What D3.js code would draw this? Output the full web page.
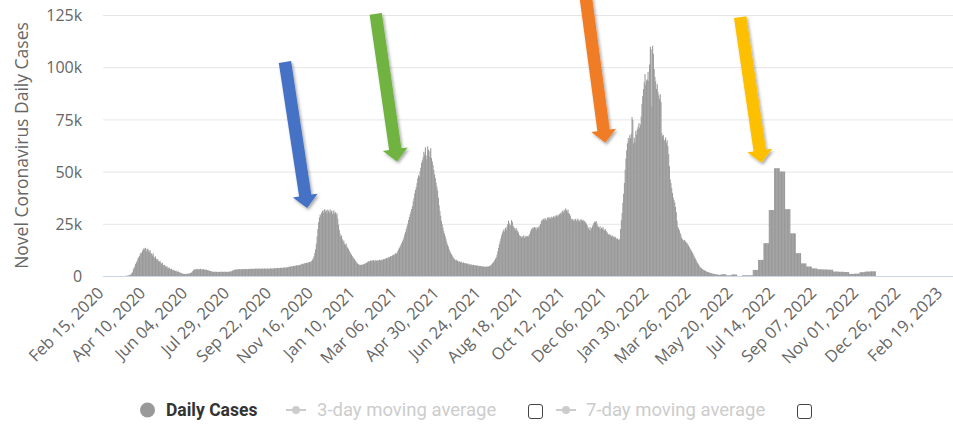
<!DOCTYPE html>
<html>
<head>
<meta charset="utf-8">
<script src="https://cdn.jsdelivr.net/npm/d3@7"></script>
<style>
  body { margin: 0; background: #fff; }
  svg { display: block; }
</style>
</head>
<body>
<div id="chart"></div>
<script>
// daily new cases in thousands, one value per day from Feb 15, 2020
var startDate = "2020-02-15";

var cases2020 = [
	0,0,0,0,0,0,0,0,0,0,0,0,0,0,0,0,0,0,0,0,0,0,0,0,0,
	0.001,0.004,0.01,0.02,0.05,0.1,0.15,0.2,0.3,0.4,0.6,0.9,1.3,1.8,
	3.2,3.9,4.6,5.8,6.5,7.2,8.4,8.9,9.5,10.6,11.2,10.9,12.1,12.8,
	13.3,12.6,13.5,11.8,12.9,13.1,12.2,11.4,12.4,11.0,
	10.6,9.8,10.9,9.2,8.6,9.4,8.1,7.6,8.2,7.1,6.8,7.3,6.2,5.9,6.4,5.3,5.0,5.4,
	4.6,4.3,4.8,3.9,3.7,4.1,3.4,3.2,3.5,2.9,2.7,3.0,2.5,2.4,2.6,2.1,2.0,2.2,1.8,1.7,
	1.5,1.3,1.2,1.1,1.0,0.9,1.0,1.1,0.9,1.0,1.2,1.1,1.3,1.4,1.6,1.9,
	2.4,2.8,3.1,3.3,3.0,3.2,3.4,3.1,3.3,3.2,3.5,3.0,3.1,3.3,3.2,3.0,3.1,2.9,3.0,2.8,2.7,2.6,2.5,2.4,
	2.2,2.1,2.0,2.1,1.9,2.0,2.1,1.9,2.0,1.8,2.0,1.9,2.0,2.1,1.9,2.0,2.0,1.9,2.1,2.0,2.0,1.9,2.0,2.1,2.0,2.1,2.2,2.3,2.5,2.7,
	2.9,3.0,3.1,3.0,3.2,3.1,3.2,3.3,3.1,3.2,3.3,3.2,3.4,3.3,3.2,3.3,3.4,3.3,3.2,3.4,3.3,3.4,3.5,3.3,3.4,3.5,
	3.4,3.3,3.5,3.6,3.4,3.5,3.4,3.6,3.5,3.4,3.5,3.6,3.5,3.4,3.6,3.5,3.4,3.5,3.6,3.5,3.4,3.6,3.7,3.5,3.6,3.5,
	3.6,3.7,3.8,3.6,3.7,3.8,3.9,3.7,3.8,3.9,4.0,3.8,3.9,4.0,4.1,3.9,4.0,4.1,4.2,
	4.3,4.4,4.5,4.4,4.6,4.7,4.5,4.8,4.9,4.7,5.0,5.1,4.9,5.2,5.3,5.1,5.4,
	5.5,5.7,5.9,5.6,6.0,6.2,6.0,6.3,6.4,6.2,6.6,6.8,6.5,7.0,7.3,7.8,8.6,
	9.5,11.0,12.8,15.5,19.0,22.5,25.8,28.0,29.5,28.8,30.4,
	31.2,30.1,31.6,32.0,30.8,31.5,29.9,31.8,31.1,30.3,31.9,30.6,31.3,29.6,30.9,31.4,29.8,30.5,29.2,30.1,
	27.5,24.6,22.1,20.3,18.9,19.4,17.6,16.2,17.0,15.4,14.8,15.6,14.2,13.5
];

var cases2021 = [
	13.0,12.1,11.4,10.8,10.2,9.6,9.0,
	8.5,8.0,7.4,6.9,6.4,6.0,5.7,
	5.4,5.3,5.2,5.4,5.5,5.3,5.6,5.8,6.0,6.1,6.3,
	6.6,7.0,7.2,6.9,7.4,7.1,7.5,7.3,7.6,7.0,7.4,7.7,7.2,7.5,7.3,7.6,7.8,7.4,7.7,7.9,7.5,8.0,8.2,7.8,8.4,8.6,8.3,
	8.8,9.1,8.9,9.4,9.6,9.3,9.9,10.2,9.8,10.5,10.9,10.6,11.3,
	12.0,12.8,13.5,14.2,15.0,15.8,16.6,17.5,18.6,20.0,
	21.2,22.6,23.9,25.1,26.8,28.3,29.6,30.8,32.1,33.5,
	35.8,37.3,39.5,41.2,42.6,44.5,46.8,48.2,47.6,50.1,51.9,54.2,55.4,
	56.8,59.5,58.2,61.6,55.9,57.7,62.1,60.4,57.1,59.8,61.2,56.5,54.8,53.1,
	50.8,48.6,46.9,44.7,42.8,41.0,
	37.5,33.8,31.1,28.9,26.4,24.8,23.2,21.5,20.3,19.0,
	17.6,16.2,15.0,14.1,12.9,12.0,11.2,10.5,9.8,9.2,
	8.6,8.1,7.7,7.4,7.8,7.2,6.9,7.1,6.8,6.6,6.9,6.4,6.2,6.5,6.1,6.0,6.3,5.9,5.7,6.0,5.6,5.5,
	5.4,5.6,5.3,5.2,5.4,5.1,5.0,5.2,4.9,5.1,4.8,4.9,4.7,4.8,4.6,4.7,4.5,4.6,4.4,4.5,4.3,4.5,4.4,4.6,4.5,4.7,4.9,5.2,5.6,6.1,
	6.5,7.0,7.6,8.3,9.0,10.2,11.8,13.5,15.2,16.6,18.0,
	19.5,20.8,21.6,22.4,21.2,23.1,22.0,23.6,
	24.8,26.5,25.2,23.9,24.6,26.8,25.9,24.1,23.4,22.8,21.9,23.0,22.2,21.5,20.8,
	19.6,18.9,19.2,18.4,19.0,18.7,19.5,18.2,18.9,19.3,18.6,19.1,18.8,19.6,20.2,
	21.4,22.3,22.9,23.2,22.6,23.5,22.8,23.4,22.1,23.0,23.6,22.7,24.1,24.9,
	26.2,27.0,26.5,27.4,26.9,27.8,27.1,26.6,27.9,28.2,27.3,28.0,27.5,28.4,27.7,28.1,28.6,27.8,28.9,28.3,29.1,28.5,29.4,28.8,29.6,
	30.1,29.5,30.8,31.2,30.4,31.7,30.9,32.4,31.5,30.6,31.8,30.2,29.7,28.9,
	27.6,26.8,27.3,26.4,27.1,26.6,27.4,26.2,26.9,27.5,26.7,26.1,27.0,26.5,27.2,26.3,26.8,25.9,26.4,25.6,25.1,24.4,
	23.6,22.8,22.1,23.4,21.7,22.9,23.8,24.5,
	25.4,26.1,25.7,26.3,25.2,24.1,
	23.5,22.9,23.8,22.4,23.1,22.6,23.4,22.2,21.8,22.5,21.6,21.1,
	20.4,19.8,20.1,19.3,19.7,18.9,19.4,18.6,19.0,18.4,18.8,18.1,17.6,18.0,17.4,17.2,17.8,
	22.5,26.8,30.2,35.1,39.4,44.6,50.8,56.2
];

var cases2022 = [
	60.2,63.5,66.1,64.8,67.4,66.0,68.2,
	76.1,74.8,
	63.6,66.2,64.1,69.5,67.8,70.3,
	71.5,73.2,70.8,72.6,76.4,
	82.3,86.1,89.5,92.8,96.7,91.4,93.6,
	94.2,97.8,93.5,101.3,
	109.8,108.5,81.2,110.2,106.4,99.1,95.3,
	93.2,89.6,91.8,88.2,86.5,84.7,87.1,83.4,
	68.4,66.9,67.5,65.2,64.8,66.3,63.7,65.0,62.1,58.4,52.6,
	46.3,44.5,42.1,39.8,37.6,36.4,35.2,33.1,30.5,
	26.4,23.6,22.8,21.9,20.6,19.8,18.4,
	17.6,17.1,16.8,17.3,16.5,16.1,15.8,
	15.2,14.6,13.9,13.2,12.6,12.0,11.3,10.6,
	9.8,9.0,8.3,7.6,6.9,6.2,5.6,5.0,4.4,
	4.0,3.7,3.4,3.1,2.9,2.7,2.5,2.3,2.1,1.9,1.8,1.7,1.5,1.4,
	1.3,1.2,1.1,1.0,0.9,0.8,0.8,0.7,0.7,0.6,0.6,0.5,0.5,
	// weekly reporting from here on, the same value shown for each day of the week
	0.8,0.8,0.8,0.8,0.8,0.8,0.8,
	0.3,0.3,0.3,0.3,0.3,0.3,0.3,
	0.7,0.7,0.7,0.7,0.7,0.7,0.7,
	0,0,0,0,0,0,0,
	0.3,0.3,0.3,0.3,0.3,0.3,0.3,
	0.3,0.3,0.3,0.3,0.3,0.3,0.3,
	2.9,2.9,2.9,2.9,2.9,2.9,2.9,
	7.7,7.7,7.7,7.7,7.7,7.7,7.7,
	15.7,15.7,15.7,15.7,15.7,15.7,15.7,
	31.6,31.6,31.6,31.6,31.6,31.6,31.6,
	51.6,51.6,51.6,51.6,51.6,51.6,51.6,
	50.0,50.0,50.0,50.0,50.0,50.0,50.0,
	32.0,32.0,32.0,32.0,32.0,32.0,32.0,
	20.4,20.4,20.4,20.4,20.4,20.4,20.4,
	10.9,10.9,10.9,10.9,10.9,10.9,10.9,
	6.0,6.0,6.0,6.0,6.0,6.0,6.0,
	4.5,4.5,4.5,4.5,4.5,4.5,4.5,
	3.6,3.6,3.6,3.6,3.6,3.6,3.6,
	3.2,3.2,3.2,3.2,3.2,3.2,3.2,
	3.1,3.1,3.1,3.1,3.1,3.1,3.1,
	3.0,3.0,3.0,3.0,3.0,3.0,3.0,
	2.1,2.1,2.1,2.1,2.1,2.1,2.1,
	2.0,2.0,2.0,2.0,2.0,2.0,2.0,
	1.9,1.9,1.9,1.9,1.9,1.9,1.9,
	1.0,1.0,1.0,1.0,1.0,1.0,1.0,
	1.1,1.1,1.1,1.1,1.1,1.1,1.1,
	1.8,1.8,1.8,1.8,1.8,1.8,1.8,
	2.1,2.1,2.1,2.1,2.1,2.1,2.1,
	2.2,2.2,2.2,2.2,2.2,2.2,2.2
];

var totalDays = 1115;      // categories on the x axis
var xTickEvery = 55;       // a label every 55 days
var yTicks = [0, 25000, 50000, 75000, 100000, 125000];

var legendNames = ["Daily Cases", "3-day moving average", "7-day moving average"];

// arrows drawn on the chart: tail and tip as [day, cases]
var arrows = [
	{ color: "#4472c4", tail: [238, 102500], tip: [267, 32600] },
	{ color: "#6fb33f", tail: [357, 125500], tip: [385, 54800] },
	{ color: "#f07c27", tail: [632, 135000], tip: [658, 63800] },
	{ color: "#fcc000", tail: [835, 124000], tip: [863, 54200] }
];


var width = 953, height = 427;
var plot = { left: 103.1, right: 953.3, top: 15, bottom: 276 };

var t0 = new Date(startDate + "T00:00:00Z");
var fmt = d3.utcFormat("%b %d, %Y");
function dayToDate(i) { return new Date(t0.getTime() + i * 864e5); }

var daily = cases2020.concat(cases2021, cases2022).map(function(v, i) {
	return { day: i, value: v * 1000 };
});

var svg = d3.select("#chart").append("svg")
	.attr("width", width)
	.attr("height", height)
	.style("font-family", "'Open Sans', 'DejaVu Sans', sans-serif");

var x = d3.scaleBand()
	.domain(d3.range(totalDays))
	.range([plot.left, plot.right])
	.padding(0);

var y = d3.scaleLinear()
	.domain([0, 125000])
	.range([plot.bottom, plot.top]);

// y axis with grid lines
var yAxis = svg.append("g")
	.attr("transform", "translate(" + plot.left + ",0)")
	.call(d3.axisLeft(y)
		.tickValues(yTicks)
		.tickSize(-(width - plot.left))
		.tickPadding(21)
		.tickFormat(function(d) { return d ? (d / 1000) + "k" : "0"; }));
yAxis.select(".domain").remove();
yAxis.selectAll(".tick line").attr("stroke", "#e6e6e6").attr("stroke-width", 1);
yAxis.selectAll(".tick text")
	.attr("fill", "#666")
	.attr("font-size", "16px")
	.attr("font-family", "'Open Sans', sans-serif")
	.attr("dy", "0.36em");

svg.append("text")
	.attr("transform", "translate(28," + ((plot.top + plot.bottom) / 2) + ") rotate(-90)")
	.attr("text-anchor", "middle")
	.attr("fill", "#666")
	.attr("font-size", "17.5px")
	.text("Novel Coronavirus Daily Cases");

// bars
svg.append("g")
	.selectAll("rect")
	.data(daily)
	.enter().append("rect")
	.attr("x", function(d) { return x(d.day); })
	.attr("width", x.bandwidth() + 0.3)
	.attr("y", function(d) { return y(d.value); })
	.attr("height", function(d) { return y(0) - y(d.value); })
	.attr("fill", "#999");

// x axis
var xAxis = svg.append("g")
	.attr("transform", "translate(0," + plot.bottom + ")")
	.call(d3.axisBottom(x)
		.tickValues(d3.range(0, totalDays, xTickEvery))
		.tickSize(0)
		.tickFormat(function(i) { return fmt(dayToDate(i)); }));
xAxis.select(".domain")
	.attr("stroke", "#ccd6eb")
	.attr("d", "M" + plot.left + ",0.5H" + width);
xAxis.selectAll(".tick text")
	.attr("fill", "#666")
	.attr("font-size", "16.5px")
	.attr("font-family", "'Open Sans', sans-serif")
	.attr("text-anchor", "end")
	.attr("x", 0).attr("y", 0).attr("dy", null)
	.attr("transform", "translate(1,18) rotate(-45)");

// arrows
var defs = svg.append("defs");
var shadow = defs.append("filter").attr("id", "shadow")
	.attr("x", "-50%").attr("y", "-50%").attr("width", "200%").attr("height", "200%");
shadow.append("feDropShadow")
	.attr("dx", 1.5).attr("dy", 2).attr("stdDeviation", 1.6)
	.attr("flood-color", "#000").attr("flood-opacity", 0.35);

function arrowPath(a) {
	var tx = x(a.tail[0]) + x.bandwidth() / 2, ty = y(a.tail[1]);
	var px = x(a.tip[0]) + x.bandwidth() / 2, py = y(a.tip[1]);
	var len = Math.hypot(px - tx, py - ty);
	var ux = (px - tx) / len, uy = (py - ty) / len;
	var nx = -uy, ny = ux;
	var w = 6.2, hw = 12.5, hl = 12.5;
	var bx = px - ux * hl, by = py - uy * hl;
	var pts = [
		[tx + nx * w, ty + ny * w],
		[bx + nx * w, by + ny * w],
		[bx + nx * hw, by + ny * hw],
		[px, py],
		[bx - nx * hw, by - ny * hw],
		[bx - nx * w, by - ny * w],
		[tx - nx * w, ty - ny * w]
	];
	return "M" + pts.map(function(p) { return p[0].toFixed(1) + "," + p[1].toFixed(1); }).join("L") + "Z";
}

svg.append("g")
	.selectAll("path")
	.data(arrows)
	.enter().append("path")
	.attr("d", arrowPath)
	.attr("fill", function(d) { return d.color; })
	.attr("filter", "url(#shadow)");

// legend
var legend = svg.append("g").attr("font-family", "Roboto, 'Open Sans', sans-serif");
var ly = 410;

legend.append("circle").attr("cx", 147.5).attr("cy", ly).attr("r", 7.5).attr("fill", "#999");
legend.append("text").attr("x", 166).attr("y", ly + 6)
	.attr("font-size", "17.5px")
	.attr("font-weight", "bold").attr("fill", "#333")
	.text(legendNames[0]);

var maItems = [
	{ name: legendNames[1], sx: 296, tx: 317, bx: 528 },
	{ name: legendNames[2], sx: 566, tx: 586, bx: 797 }
];
maItems.forEach(function(m) {
	legend.append("line")
		.attr("x1", m.sx - 10).attr("x2", m.sx + 10)
		.attr("y1", ly).attr("y2", ly)
		.attr("stroke", "#ccc").attr("stroke-width", 2);
	legend.append("circle").attr("cx", m.sx).attr("cy", ly).attr("r", 4).attr("fill", "#ccc");
	legend.append("text").attr("x", m.tx).attr("y", ly + 6)
		.attr("font-size", "18.5px")
		.attr("fill", "#ccc")
		.text(m.name);
	legend.append("rect")
		.attr("x", m.bx + 0.5).attr("y", ly - 5.5)
		.attr("width", 14).attr("height", 14).attr("rx", 2.5)
		.attr("fill", "#fff").attr("stroke", "#444").attr("stroke-width", 1);
});
</script>
</body>
</html>
